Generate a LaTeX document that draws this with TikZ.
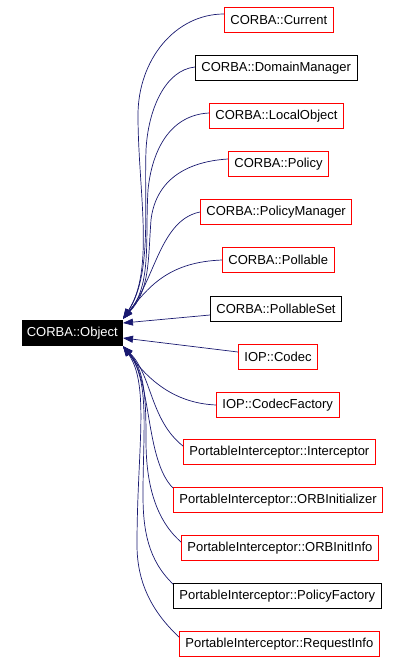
\documentclass[tikz,border=0pt]{standalone}
\usepackage{fontspec}
\setmainfont{Liberation Sans}
\usetikzlibrary{arrows.meta}
\definecolor{edgeblue}{RGB}{25,25,112}

\begin{document}
\begin{tikzpicture}[x=1pt,y=-1pt,
  cls/.style={draw=red,line width=0.8pt,anchor=west,minimum height=25pt,inner xsep=6pt,inner ysep=0pt,font=\fontsize{13}{15}\selectfont},
  clsb/.style={cls,draw=black},
  inh/.style={edgeblue,line width=0.7pt,-{Triangle[length=10pt,width=7pt]}}]
\useasboundingbox (0,0) rectangle (400,662);

% Base class
\node [fill=black,text=white,anchor=east,minimum height=26pt,inner xsep=5pt,inner ysep=0pt,font=\fontsize{13}{15}\selectfont] (obj) at (123,333) {CORBA::Object};

% Derived classes
\node [cls]  (cur)   at (224,20)  {CORBA::Current};
\node [clsb] (dom)   at (195,68)  {CORBA::DomainManager};
\node [cls]  (loc)   at (209,116) {CORBA::LocalObject};
\node [cls]  (pol)   at (228,164) {CORBA::Policy};
\node [cls]  (polm)  at (200,212) {CORBA::PolicyManager};
\node [cls]  (pl)    at (222,260) {CORBA::Pollable};
\node [clsb] (pls)   at (210,309) {CORBA::PollableSet};
\node [cls]  (cod)   at (238,357) {IOP::Codec};
\node [cls]  (codf)  at (216,405) {IOP::CodecFactory};
\node [cls]  (icp)   at (183,452) {PortableInterceptor::Interceptor};
\node [cls]  (orbi)  at (173,500) {PortableInterceptor::ORBInitializer};
\node [cls]  (orbinf) at (181,548) {PortableInterceptor::ORBInitInfo};
\node [clsb] (pf)    at (173,596) {PortableInterceptor::PolicyFactory};
\node [cls]  (req)   at (179,644) {PortableInterceptor::RequestInfo};

% Inheritance edges, upper bundle
\draw [inh] ([yshift=6pt]cur.west) .. controls (175,14) and (138,60) .. (138,115) .. controls (138,190) and (155,270) .. ([yshift=1pt]obj.north east);
\draw [inh] ([yshift=1pt]dom.west) .. controls (165,70) and (148,110) .. (146,150) .. controls (144,210) and (152,275) .. ([yshift=1pt]obj.north east);
\draw [inh] ([yshift=3pt]loc.west) .. controls (170,115) and (152,150) .. (148,190) .. controls (145,240) and (152,285) .. ([yshift=1pt]obj.north east);
\draw [inh] ([yshift=5pt]pol.west) .. controls (180,162) and (155,185) .. (151,220) .. controls (148,260) and (150,290) .. ([yshift=1pt]obj.north east);
\draw [inh] (polm.west) .. controls (160,220) and (155,280) .. ([yshift=1pt]obj.north east);
\draw [inh] (pl.west) .. controls (170,262) and (150,285) .. ([yshift=1pt]obj.north east);

% Inheritance edges, straight ones
\draw [inh] ([yshift=-6pt]pls.west) -- ([yshift=10pt]obj.east);
\draw [inh] ([yshift=5pt]cod.west) -- ([yshift=-5pt]obj.east);

% Inheritance edges, lower bundle
\draw [inh] (codf.west) .. controls (170,403) and (145,375) .. (obj.south east);
\draw [inh] ([yshift=6pt]icp.west) .. controls (150,420) and (152,375) .. (obj.south east);
\draw [inh] ([yshift=12pt]orbi.west) .. controls (145,460) and (152,380) .. (obj.south east);
\draw [inh] ([yshift=6pt]orbinf.west) .. controls (150,515) and (146,470) .. (146,440) .. controls (146,400) and (145,370) .. (obj.south east);
\draw [inh] ([yshift=12pt]pf.west) .. controls (148,560) and (143,530) .. (143,495) .. controls (143,430) and (150,380) .. (obj.south east);
\draw [inh] ([yshift=7pt]req.west) .. controls (150,610) and (137,580) .. (137,545) .. controls (137,450) and (150,385) .. (obj.south east);

\end{tikzpicture}
\end{document}
